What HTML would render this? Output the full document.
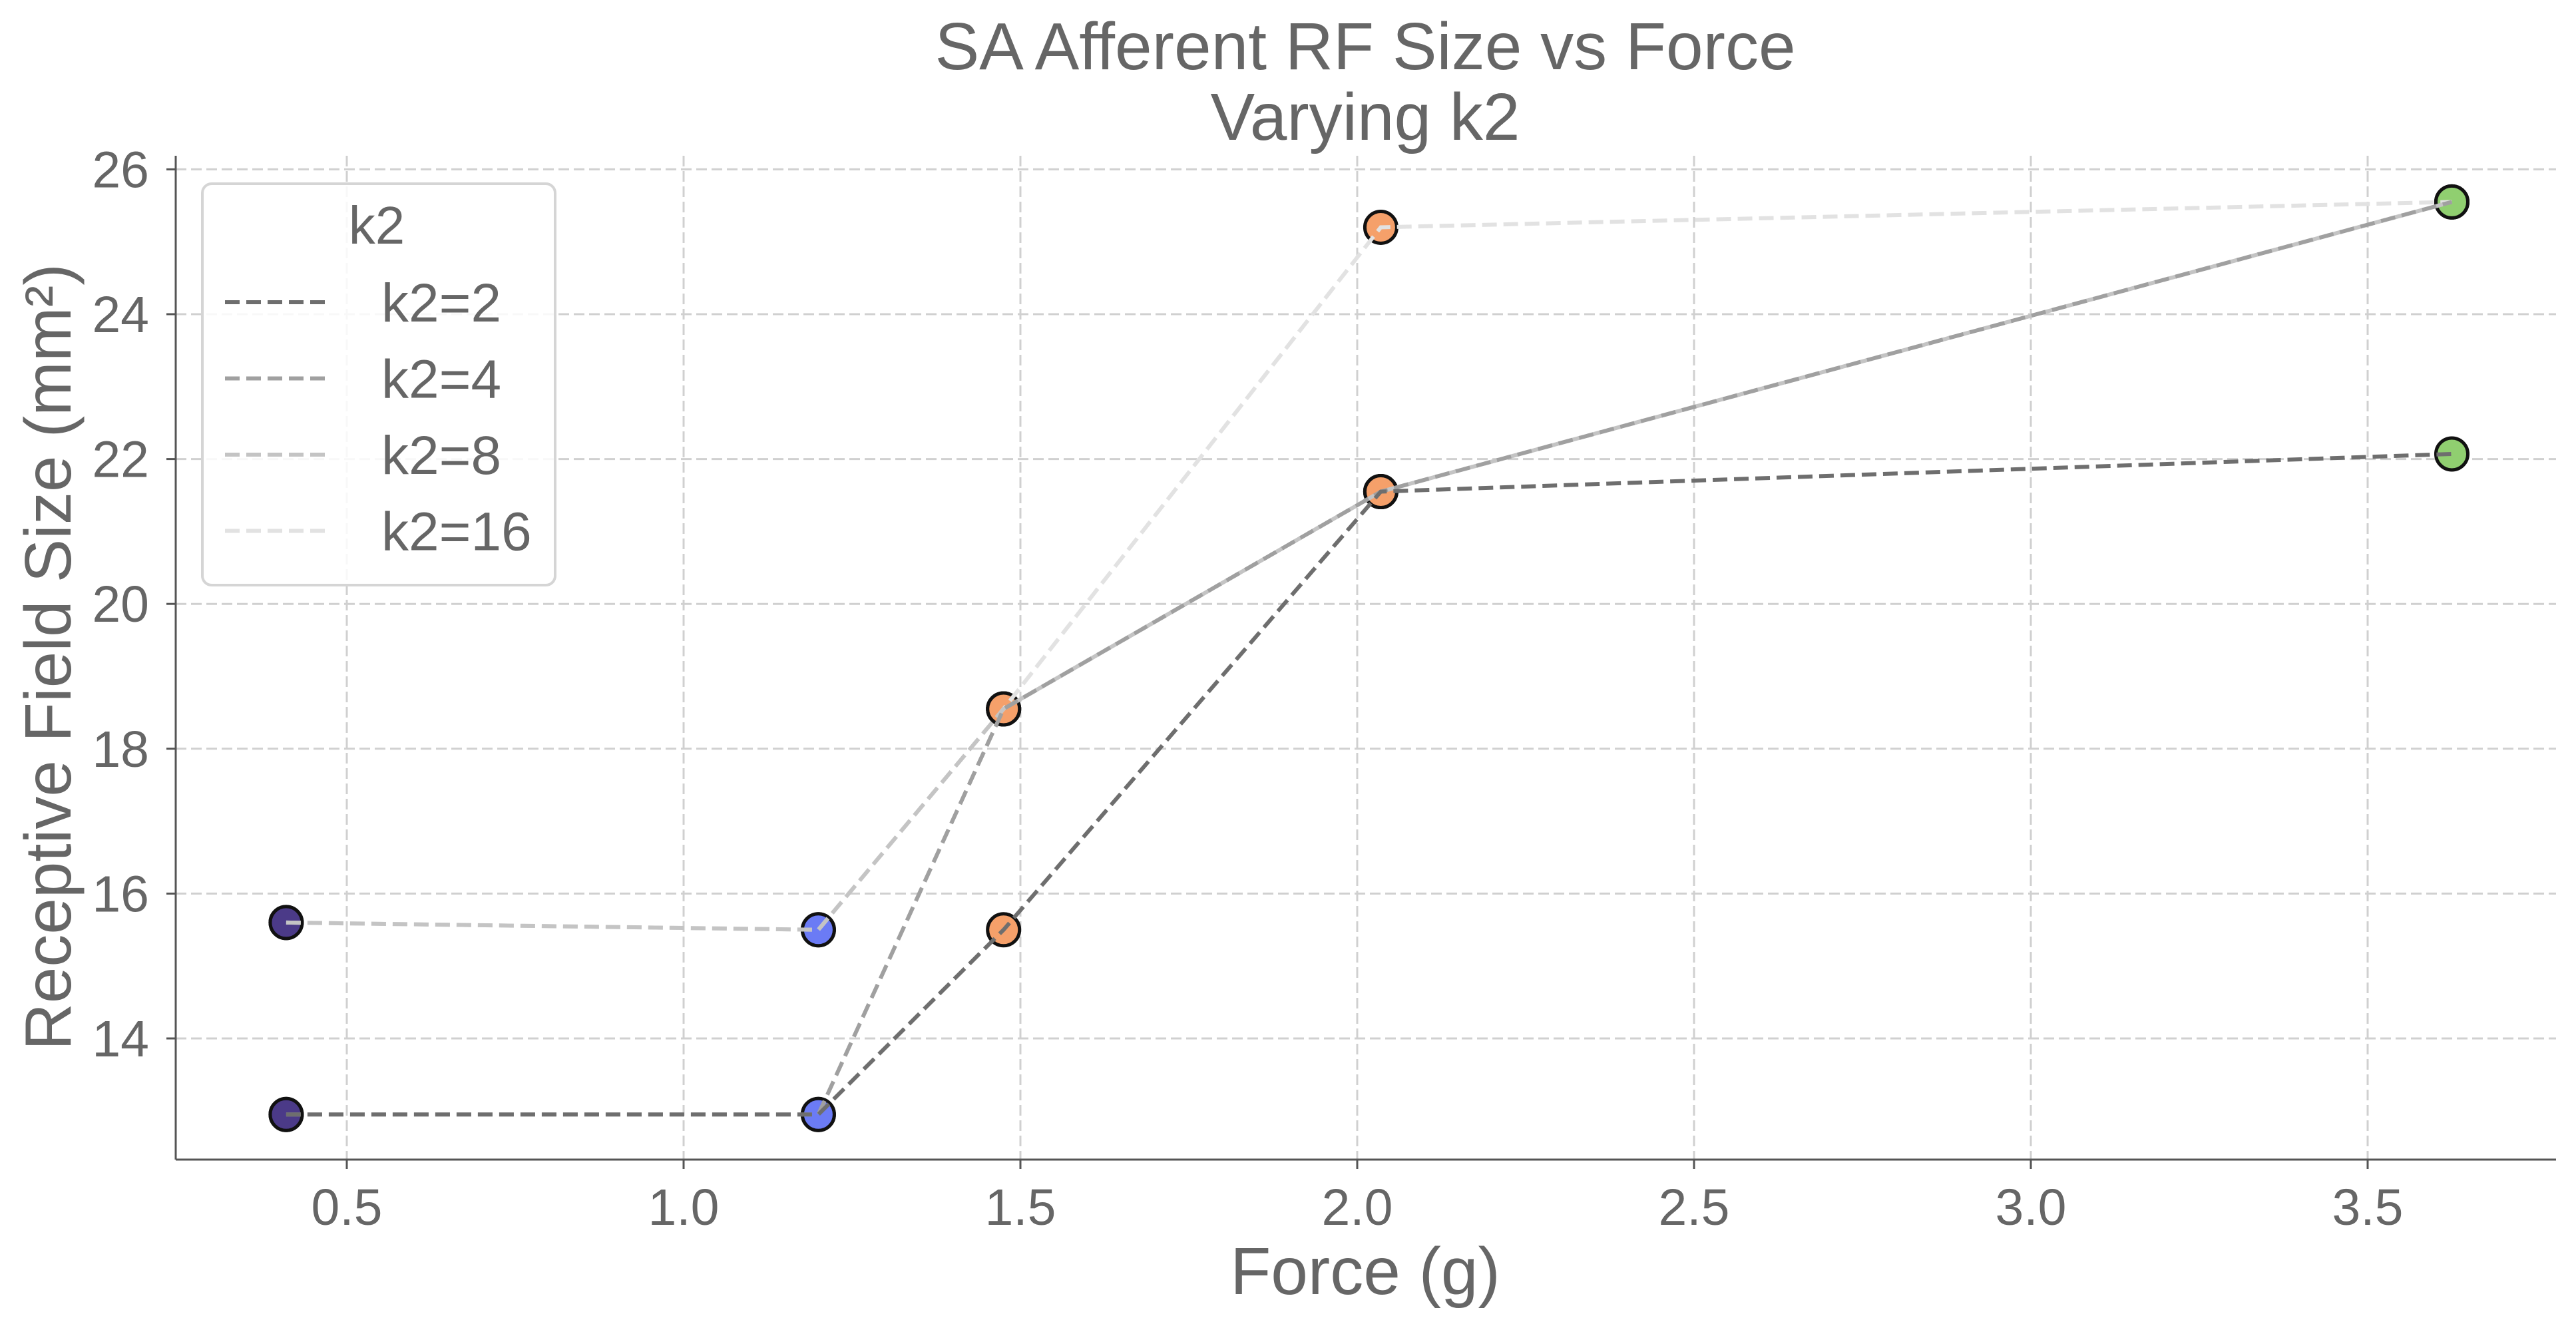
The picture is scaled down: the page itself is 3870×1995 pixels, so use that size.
<!DOCTYPE html>
<html><head><meta charset="utf-8"><style>
html,body{margin:0;padding:0;background:#fff}
svg text{font-family:"Liberation Sans",Arial,sans-serif;fill:#666}
</style></head><body>
<svg id="chart" width="3870" height="1990" viewBox="0 0 3870 1990" xmlns="http://www.w3.org/2000/svg">
<rect width="3870" height="1990" fill="#fff"/>
<g id="grid"></g>
<g id="markers"></g>
<g id="lines"></g>
<g id="axes"></g>
<text x="2051" y="104" font-size="100" text-anchor="middle">SA Afferent RF Size vs Force</text>
<text x="2051" y="210" font-size="100" text-anchor="middle">Varying k2</text>
<text x="2051" y="1944" font-size="100" text-anchor="middle">Force (g)</text>
<text transform="translate(106,987) rotate(-90)" font-size="98" text-anchor="middle">Receptive Field Size (mm²)</text>
<g id="legend">
<rect x="304" y="276" width="530" height="603" rx="14" fill="#fff" fill-opacity="0.85" stroke="#d5d5d5" stroke-width="4"/>
<text x="566" y="366" font-size="80" text-anchor="middle">k2</text>
</g>
</svg>
<script>
const forces=[0.41,1.2,1.475,2.035,3.625];
const seriesNames=["k2=2","k2=4","k2=8","k2=16"];
const k2_2=[12.95,12.95,15.5,21.55,22.07];
const k2_4=[12.95,12.95,18.55,21.55,25.55];
const k2_8=[15.6,15.5,18.55,21.55,25.55];
const k2_16=[15.6,15.5,18.55,25.2,25.55];
const xTicks=[0.5,1.0,1.5,2.0,2.5,3.0,3.5];
const xTickLabels=["0.5","1.0","1.5","2.0","2.5","3.0","3.5"];
const yTicks=[14,16,18,20,22,24,26];
const yTickLabels=["14","16","18","20","22","24","26"];
const pointColors=["#4b3a88","#6b7bf5","#f5a06a","#f5a06a","#90cf70"];
const lineColors=["#6e6e6e","#a0a0a0","#c4c4c4","#e2e2e2"];
const NS="http://www.w3.org/2000/svg";
const L=264,R=3840,T=234,B=1742;
function xs(v){return 521+(v-0.5)*1012;}
function ys(v){return 1560-(v-14)*108.8;}
function mk(tag,attrs,parent){const e=document.createElementNS(NS,tag);for(const k in attrs)e.setAttribute(k,attrs[k]);parent.appendChild(e);return e;}
const grid=document.getElementById('grid'),axes=document.getElementById('axes'),markers=document.getElementById('markers'),lines=document.getElementById('lines'),legend=document.getElementById('legend');
xTicks.forEach((t,i)=>{
 const g=mk('line',{x1:xs(t),x2:xs(t),y1:T,y2:B,stroke:'#d0d0d0','stroke-width':3,'stroke-dasharray':'16 7'},grid);
 
 
 const tk=mk('line',{x1:xs(t),x2:xs(t),y1:B,y2:B+14,stroke:'#555','stroke-width':3},axes);
 
 
 const tx=mk('text',{x:xs(t),y:1840,'font-size':77,'text-anchor':'middle'},axes);
 tx.textContent=xTickLabels[i];
 
 
});
yTicks.forEach((t,i)=>{
 const g=mk('line',{x1:L,x2:R,y1:ys(t),y2:ys(t),stroke:'#d0d0d0','stroke-width':3,'stroke-dasharray':'16 7'},grid);
 
 
 const tk=mk('line',{x1:L-14,x2:L,y1:ys(t),y2:ys(t),stroke:'#555','stroke-width':3},axes);
 
 
 const tx=mk('text',{x:224,y:ys(t)+27,'font-size':77,'text-anchor':'end'},axes);
 tx.textContent=yTickLabels[i];
 
 
});
const sp1=mk('line',{x1:L,x2:L,y1:T,y2:B,stroke:'#555','stroke-width':3},axes);


const sp2=mk('line',{x1:L,x2:R,y1:B,y2:B,stroke:'#555','stroke-width':3},axes);


const allSeries=[k2_2,k2_4,k2_8,k2_16];
allSeries.forEach((s,si)=>{
 s.forEach((v,i)=>{
  const c=mk('circle',{cx:xs(forces[i]),cy:ys(v),r:24,fill:pointColors[i],stroke:'#111','stroke-width':5},markers);
  
  
 });
});
for(let si=allSeries.length-1;si>=0;si--){
 const s=allSeries[si];
 const pts=s.map((v,i)=>xs(forces[i])+','+ys(v)).join(' ');
 const p=mk('polyline',{points:pts,fill:'none',stroke:lineColors[si],'stroke-width':6,'stroke-dasharray':'22 10'},lines);
 
 
}
allSeries.forEach((s,si)=>{
 const ly=454+si*114.5;
 const ll=mk('line',{x1:338,x2:494,y1:ly,y2:ly,stroke:lineColors[si],'stroke-width':6,'stroke-dasharray':'22 10'},legend);
 
 
 const lt=mk('text',{x:573,y:ly+29,'font-size':82},legend);
 lt.textContent=seriesNames[si];
 
 
});
</script>
</body></html>
